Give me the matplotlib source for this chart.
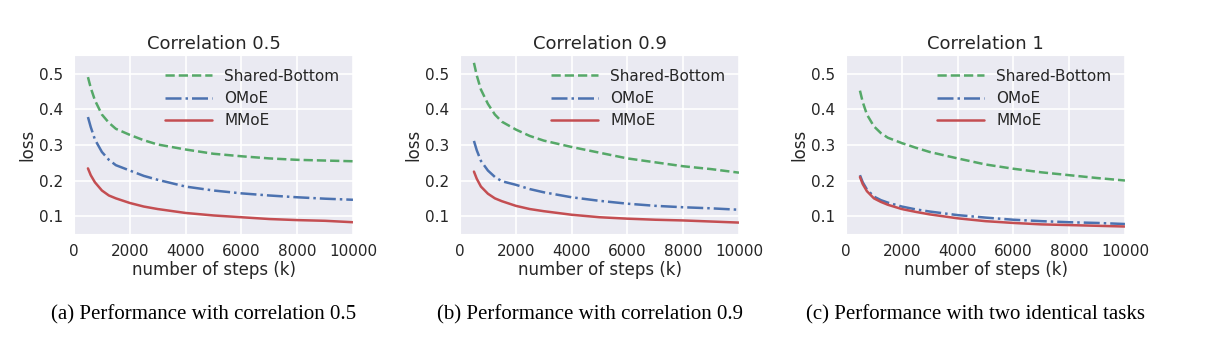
import matplotlib
matplotlib.use("Agg")
import matplotlib.pyplot as plt
import seaborn as sns

sns.set_style("darkgrid")
plt.rcParams['font.family'] = ['DejaVu Sans']

steps = [500, 600, 750, 1000, 1250, 1500, 2000, 2500, 3000, 4000, 5000, 6000, 7000, 8000, 9000, 10000]

titles = ["Correlation 0.5", "Correlation 0.9", "Correlation 1"]
captions = ["(a) Performance with correlation 0.5",
            "(b) Performance with correlation 0.9",
            "(c) Performance with two identical tasks"]

shared_bottom = [
    [0.490, 0.460, 0.425, 0.385, 0.362, 0.345, 0.328, 0.313, 0.301, 0.287, 0.275, 0.268, 0.262, 0.258, 0.256, 0.254],
    [0.530, 0.495, 0.455, 0.415, 0.385, 0.365, 0.343, 0.325, 0.312, 0.294, 0.278, 0.262, 0.251, 0.240, 0.232, 0.222],
    [0.452, 0.420, 0.385, 0.352, 0.333, 0.320, 0.305, 0.292, 0.280, 0.262, 0.245, 0.233, 0.223, 0.215, 0.207, 0.200],
]
omoe = [
    [0.378, 0.350, 0.315, 0.280, 0.258, 0.243, 0.228, 0.213, 0.202, 0.183, 0.172, 0.164, 0.158, 0.153, 0.149, 0.146],
    [0.311, 0.285, 0.255, 0.228, 0.210, 0.198, 0.188, 0.176, 0.167, 0.153, 0.143, 0.135, 0.129, 0.125, 0.122, 0.118],
    [0.215, 0.195, 0.175, 0.155, 0.145, 0.138, 0.127, 0.119, 0.113, 0.103, 0.096, 0.090, 0.086, 0.083, 0.081, 0.078],
]
mmoe = [
    [0.234, 0.215, 0.195, 0.172, 0.158, 0.150, 0.137, 0.127, 0.120, 0.109, 0.102, 0.097, 0.092, 0.089, 0.087, 0.083],
    [0.225, 0.205, 0.183, 0.163, 0.150, 0.142, 0.129, 0.120, 0.114, 0.104, 0.097, 0.093, 0.090, 0.088, 0.085, 0.082],
    [0.210, 0.190, 0.170, 0.150, 0.140, 0.132, 0.120, 0.112, 0.105, 0.094, 0.086, 0.081, 0.077, 0.075, 0.073, 0.071],
]

green = "#55A868"
blue = "#4C72B0"
red = "#C44E52"

fig = plt.figure(figsize=(12.2, 3.5), dpi=100)
lefts = [74, 460, 846]
for i in range(3):
    ax = fig.add_axes([lefts[i] / 1220, 116 / 350, 279 / 1220, 179 / 350])
    ax.plot(steps, shared_bottom[i], linestyle="--", color=green, lw=1.8, label="Shared-Bottom")
    ax.plot(steps, omoe[i], linestyle="-.", color=blue, lw=1.8, label="OMoE")
    ax.plot(steps, mmoe[i], linestyle="-", color=red, lw=1.8, label="MMoE")
    ax.set_xlim(0, 10000)
    ax.set_ylim(0.05, 0.552)
    ax.set_xticks([0, 2000, 4000, 6000, 8000, 10000])
    ax.set_yticks([0.1, 0.2, 0.3, 0.4, 0.5])
    ax.tick_params(labelsize=11, colors="#262626", pad=4)
    ax.set_title(titles[i], fontsize=13, color="#262626", pad=4)
    ax.set_xlabel("number of steps (k)", fontsize=12, color="#262626", labelpad=1)
    ax.set_ylabel("loss", fontsize=12, color="#262626", labelpad=2)
    ax.legend(loc="upper right", frameon=False, fontsize=11, handlelength=3.1,
              borderaxespad=0.5, labelspacing=0.48)
    ax.grid(True, color="white", lw=1.2)

centers = [204, 590, 975]
for c, txt in zip(centers, captions):
    fig.text(c / 1220, 1 - 315 / 350, txt, ha="center", va="center",
             family="Liberation Serif", fontsize=15, color="black")

fig.savefig("out.png", dpi=100)
